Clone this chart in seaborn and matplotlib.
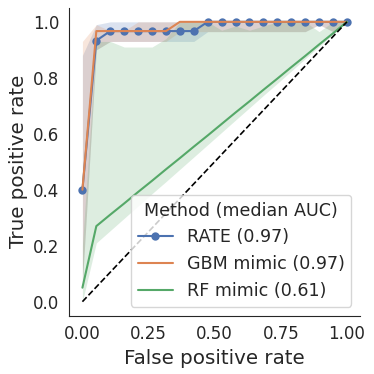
import numpy as np
import pandas as pd
import matplotlib
matplotlib.use("Agg")
import matplotlib.pyplot as plt
import seaborn as sns

fpr = [0.0, 0.0526, 0.1053, 0.1579, 0.2105, 0.2632, 0.3158, 0.3684, 0.4211, 0.4737,
       0.5263, 0.5789, 0.6316, 0.6842, 0.7368, 0.7895, 0.8421, 0.8947, 0.9474, 1.0]

rate_tpr = [0.40, 0.933, 0.967, 0.967, 0.967, 0.967, 0.967, 0.967, 0.967, 1.0,
            1.0, 1.0, 1.0, 1.0, 1.0, 1.0, 1.0, 1.0, 1.0, 1.0]
rate_lo = [0.07, 0.90, 0.93, 0.93, 0.93, 0.93, 0.93, 0.93, 0.93, 0.965,
           0.965, 0.965, 0.965, 0.965, 0.965, 0.965, 0.965, 0.99, 0.965, 1.0]
rate_hi = [0.88, 0.99, 1.0, 1.0, 1.0, 1.0, 1.0, 1.0, 1.0, 1.0,
           1.0, 1.0, 1.0, 1.0, 1.0, 1.0, 1.0, 1.0, 1.0, 1.0]

gbm_tpr = [0.40, 0.967, 0.967, 0.967, 0.967, 0.967, 0.967, 1.0, 1.0, 1.0,
           1.0, 1.0, 1.0, 1.0, 1.0, 1.0, 1.0, 1.0, 1.0, 1.0]
gbm_lo = [0.07, 0.90, 0.93, 0.93, 0.93, 0.93, 0.93, 0.965, 0.965, 0.965,
          0.965, 0.965, 0.965, 0.965, 0.965, 0.965, 0.965, 0.99, 0.965, 1.0]
gbm_hi = [0.93, 0.99, 0.968, 0.968, 1.0, 1.0, 1.0, 1.0, 1.0, 1.0,
          1.0, 1.0, 1.0, 1.0, 1.0, 1.0, 1.0, 1.0, 1.0, 1.0]

rf_tpr = [0.05, 0.27, 0.311, 0.351, 0.392, 0.432, 0.473, 0.513, 0.554, 0.594,
          0.635, 0.676, 0.716, 0.757, 0.797, 0.838, 0.878, 0.919, 0.959, 1.0]
rf_lo = [0.0, 0.21, 0.254, 0.298, 0.342, 0.386, 0.429, 0.473, 0.517, 0.561,
         0.605, 0.649, 0.693, 0.737, 0.780, 0.824, 0.868, 0.912, 0.956, 1.0]
rf_hi = [0.20, 0.93, 0.93, 0.91, 0.91, 0.91, 0.94, 1.0, 1.0, 1.0,
         0.97, 0.985, 0.97, 0.985, 1.0, 1.0, 1.0, 0.965, 1.0, 1.0]

methods = ["RATE (0.97)", "GBM mimic (0.97)", "RF mimic (0.61)"]

sns.set_style("white")
plt.rcParams['font.family'] = ['DejaVu Sans']

fig, ax = plt.subplots(figsize=(3.74, 3.74), dpi=100)
fig.subplots_adjust(left=0.185, right=0.963, bottom=0.156, top=0.979)

pal = sns.color_palette("deep")
series = [(rate_tpr, rate_lo, rate_hi, "o"), (gbm_tpr, gbm_lo, gbm_hi, None), (rf_tpr, rf_lo, rf_hi, None)]
for (tpr, lo, hi, mk), name, col in zip(series, methods, pal):
    ax.fill_between(fpr, lo, hi, color=col, alpha=0.2, linewidth=0)
for (tpr, lo, hi, mk), name, col in zip(series, methods, pal):
    df = pd.DataFrame({"fpr": fpr, "tpr": tpr})
    kw = dict(marker="o", markersize=6, markeredgewidth=0) if mk else {}
    sns.lineplot(data=df, x="fpr", y="tpr", ax=ax, color=col, label=name, linewidth=1.5, **kw)

ax.plot([0, 1], [0, 1], "k--", linewidth=1.2)

ax.set_xticks([0.0, 0.25, 0.5, 0.75, 1.0])
ax.set_xticklabels(["0.00", "0.25", "0.50", "0.75", "1.00"])
ax.set_yticks([0.0, 0.2, 0.4, 0.6, 0.8, 1.0])
ax.tick_params(labelsize=12)
ax.set_xlabel("False positive rate", fontsize=14.3)
ax.set_ylabel("True positive rate", fontsize=14.3)
sns.despine(ax=ax)
leg = ax.legend(title="Method (median AUC)", loc="lower right", fontsize=12.6, title_fontsize=12.6)
fig.savefig("out.png", dpi=100)
